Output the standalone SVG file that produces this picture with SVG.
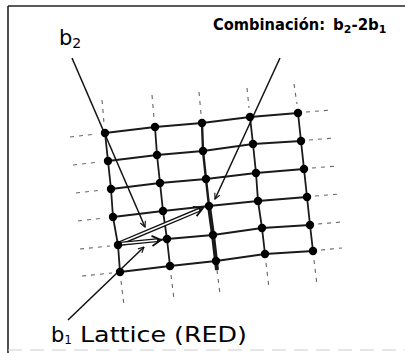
<svg xmlns="http://www.w3.org/2000/svg" width="405" height="353" viewBox="0 0 405 353">
<defs>
<style>
.grid{fill:none;stroke:#1a1a1a;stroke-width:1.8;stroke-linejoin:round}
.dash{fill:none;stroke:#666;stroke-width:1.1;stroke-dasharray:4 5}
.call{fill:none;stroke:#111;stroke-width:1.5}
.node{fill:#000}
.lbl{font-family:"DejaVu Sans","Liberation Sans",sans-serif;fill:#000}
</style>
<marker id="ah" viewBox="0 0 10 10" refX="9" refY="5" markerWidth="7" markerHeight="7" orient="auto" markerUnits="userSpaceOnUse">
<path d="M1,1 L9,5 L1,9" fill="none" stroke="#111" stroke-width="1.6"/>
</marker>
</defs>
<rect width="405" height="353" fill="#fff"/>
<g id="frame">
<line x1="8" y1="6" x2="405" y2="6" stroke="#222" stroke-width="1.6"/>
<line x1="8" y1="6" x2="8" y2="353" stroke="#222" stroke-width="1.6"/>
<line x1="8" y1="350" x2="405" y2="350" stroke="#ccc" stroke-width="1" stroke-dasharray="14 8"/>
</g>
<g id="connectors">
<g class="dash">
<line x1="70" y1="137" x2="97" y2="134"/>
<line x1="73" y1="165" x2="100" y2="162"/>
<line x1="76" y1="193" x2="103" y2="190"/>
<line x1="78" y1="221" x2="105" y2="218"/>
<line x1="80" y1="249" x2="110" y2="246"/>
<line x1="82" y1="276" x2="112" y2="273"/>
<line x1="306" y1="112" x2="332" y2="110"/>
<line x1="309" y1="140" x2="335" y2="138"/>
<line x1="312" y1="168" x2="338" y2="166"/>
<line x1="315" y1="196" x2="340" y2="194"/>
<line x1="318" y1="224" x2="342" y2="222"/>
<line x1="321" y1="250" x2="342" y2="248"/>
<line x1="102" y1="100" x2="104" y2="123"/>
<line x1="152" y1="95" x2="154" y2="118"/>
<line x1="199" y1="92" x2="201" y2="114"/>
<line x1="247" y1="88" x2="249" y2="108"/>
<line x1="294" y1="84" x2="297" y2="104"/>
<line x1="121" y1="281" x2="124" y2="305"/>
<line x1="171" y1="275" x2="174" y2="299"/>
<line x1="217" y1="270" x2="220" y2="294"/>
<line x1="266" y1="263" x2="269" y2="288"/>
<line x1="314" y1="260" x2="317" y2="285"/>
</g>
<polyline class="grid" points="105,133 155,127 202,123 250,117 298,113"/>
<polyline class="grid" points="108,161 157,155 203,151 253,144 301,141"/>
<polyline class="grid" points="111,189 160,183 206,179 256,173 304,169"/>
<polyline class="grid" points="113,217 163,211 209,206 258,201 307,197"/>
<polyline class="grid" points="118,245 167,239 213,235 262,228 310,225"/>
<polyline class="grid" points="120,272 170,266 216,261 265,254 313,251"/>
<polyline class="grid" points="105,133 108,161 111,189 113,217 118,245 120,272"/>
<polyline class="grid" points="155,127 157,155 160,183 163,211 167,239 170,266"/>
<polyline class="grid" points="202,123 203,151 206,179 209,206" style="stroke-width:2.4"/>
<polyline class="grid" points="209,206 213,235 216,261 217,270" style="stroke-width:4"/>
<polyline class="grid" points="250,117 253,144 256,173 258,201 262,228 265,254"/>
<polyline class="grid" points="298,113 301,141 304,169 307,197 310,225 313,251"/>
<g id="long-vector">
<line x1="118" y1="244" x2="201" y2="209" stroke="#111" stroke-width="4.2"/>
<line x1="120" y1="243" x2="199" y2="210" stroke="#fff" stroke-width="1.4"/>
<path d="M196.6,216.1 L203,208 L192.8,206.9" fill="none" stroke="#111" stroke-width="1.8"/>
</g>
<g id="short-vector">
<line x1="118" y1="244" x2="159" y2="240" stroke="#111" stroke-width="4.2"/>
<line x1="120" y1="243.8" x2="157" y2="240.2" stroke="#fff" stroke-width="1.4"/>
<path d="M152.5,245.9 L161,240 L151.5,235.9" fill="none" stroke="#111" stroke-width="1.8"/>
</g>
<line class="call" x1="72" y1="58" x2="145" y2="227" marker-end="url(#ah)"/>
<line class="call" x1="280" y1="58" x2="215" y2="199" marker-end="url(#ah)"/>
<line class="call" x1="68" y1="320" x2="144" y2="247" marker-end="url(#ah)"/>
</g>
<g id="nodes" class="node">
<circle cx="105" cy="133" r="4.2"/><circle cx="155" cy="127" r="4.2"/><circle cx="202" cy="123" r="4.2"/><circle cx="250" cy="117" r="4.2"/><circle cx="298" cy="113" r="4.2"/>
<circle cx="108" cy="161" r="4.2"/><circle cx="157" cy="155" r="4.2"/><circle cx="203" cy="151" r="4.2"/><circle cx="253" cy="144" r="4.2"/><circle cx="301" cy="141" r="4.2"/>
<circle cx="111" cy="189" r="4.2"/><circle cx="160" cy="183" r="4.2"/><circle cx="206" cy="179" r="4.2"/><circle cx="256" cy="173" r="4.2"/><circle cx="304" cy="169" r="4.2"/>
<circle cx="113" cy="217" r="4.2"/><circle cx="163" cy="211" r="4.2"/><circle cx="209" cy="206" r="4.2"/><circle cx="258" cy="201" r="4.2"/><circle cx="307" cy="197" r="4.2"/>
<circle cx="118" cy="245" r="4.2"/><circle cx="167" cy="239" r="4.2"/><circle cx="213" cy="235" r="4.2"/><circle cx="262" cy="228" r="4.2"/><circle cx="310" cy="225" r="4.2"/>
<circle cx="120" cy="272" r="4.2"/><circle cx="170" cy="266" r="4.2"/><circle cx="216" cy="261" r="4.2"/><circle cx="265" cy="254" r="4.2"/><circle cx="313" cy="251" r="4.2"/>
</g>
<g id="label-b2">
<text class="lbl" x="59" y="45" font-size="21">b<tspan font-size="14" dy="3">2</tspan></text>
</g>
<g id="label-combination">
<text class="lbl" x="213" y="30" font-size="15" font-weight="bold"><tspan textLength="112" lengthAdjust="spacingAndGlyphs">Combinación:</tspan><tspan x="333">b</tspan><tspan font-size="11" dy="3">2</tspan><tspan dy="-3">-2b</tspan><tspan font-size="11" dy="3">1</tspan></text>
</g>
<g id="label-b1">
<text class="lbl" x="51" y="342" font-size="21">b<tspan font-size="12" dy="2">1</tspan></text>
<text class="lbl" x="80" y="342" font-size="21" textLength="167" lengthAdjust="spacingAndGlyphs">Lattice (RED)</text>
</g>
</svg>
